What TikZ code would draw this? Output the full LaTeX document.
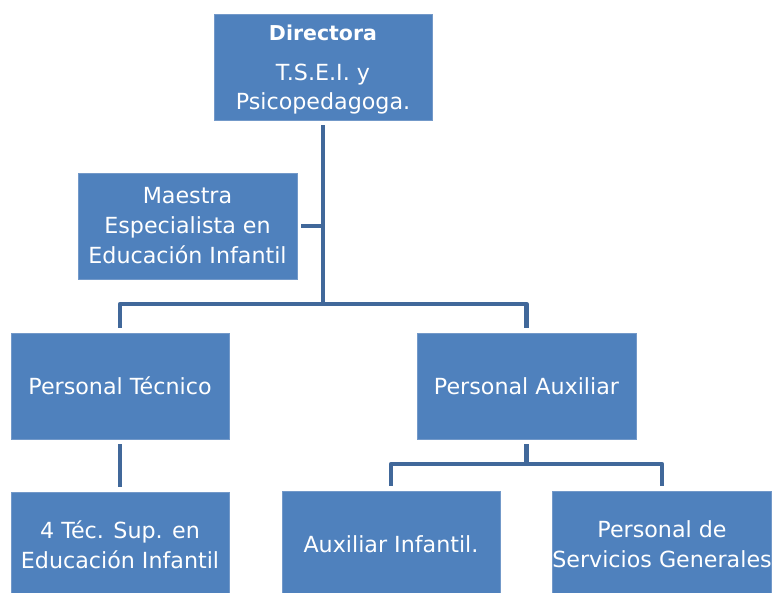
\documentclass[tikz,border=0pt]{standalone}
\usepackage{fontspec}
\setmainfont{DejaVu Sans}
\definecolor{boxblue}{HTML}{4F81BD}
\definecolor{boxedge}{HTML}{7399C9}
\definecolor{linkblue}{HTML}{41689A}
\begin{document}
\begin{tikzpicture}[x=1pt,y=-1pt,
  orgbox/.style={rectangle, fill=boxblue, draw=boxedge, line width=0.6pt,
    minimum width=218pt, minimum height=106pt, inner sep=0pt,
    text=white, align=center, font=\fontsize{22.2}{30}\selectfont},
  conn/.style={draw=linkblue, line width=4.5pt, line join=round}]
\useasboundingbox (0,0) rectangle (774,593);
\clip (0,0) rectangle (774,593);
\node[orgbox] (D) at (323,67) {};
\node[text=white, font=\fontsize{20.5}{24}\selectfont\bfseries] (Dt) at (323,33) {Directora};
\node[text=white, align=center, font=\fontsize{22.2}{29}\selectfont] (Ds) at (323,89) {T.S.E.I. y\\Psicopedagoga.};
\node[orgbox, minimum width=219pt] (M) at (187.5,226) {Maestra\\Especialista en\\Educación Infantil};
\node[orgbox] (PT) at (120,386) {Personal Técnico};
\node[orgbox, minimum width=219pt] (PA) at (526.5,386) {Personal Auxiliar};
\node[orgbox, minimum height=106pt] (T4) at (120,545) {4 Téc. Sup. en\\Educación Infantil};
\node[orgbox, minimum height=106pt] (AI) at (391,544) {Auxiliar Infantil.};
\node[orgbox, minimum height=106pt] (PS) at (662,544) {Personal de\\Servicios Generales};
\coordinate (j1) at (323,304);
\coordinate (j2) at (526.5,464);
\draw[conn] ([yshift=-5pt]D.south) -- (j1);
\draw[conn] ([xshift=4pt]M.east) -- (M.east -| D.south);
\draw[conn] ([yshift=5pt]PT.north) |- (j1) -| ([yshift=5pt]PA.north);
\draw[conn] ([yshift=-5pt]PT.south) -- ([yshift=5pt]T4.north);
\draw[conn] ([yshift=-5pt]PA.south) -- (j2);
\draw[conn] ([yshift=5pt]AI.north) |- (j2) -| ([yshift=5pt]PS.north);
\end{tikzpicture}
\end{document}
